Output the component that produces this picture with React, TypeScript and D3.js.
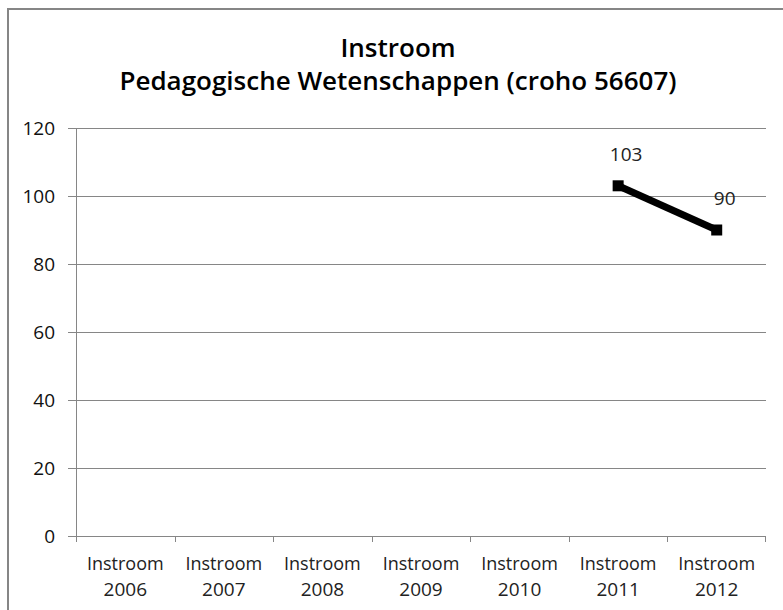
import React from "react";
import * as d3 from "d3";

const categories = ["2006", "2007", "2008", "2009", "2010", "2011", "2012"];
const values: (number | null)[] = [null, null, null, null, null, 103, 90];
const yTicks = [0, 20, 40, 60, 80, 100, 120];
const titleLines = ["Instroom", "Pedagogische Wetenschappen (croho 56607)"];
const catPrefix = "Instroom";

export default function App() {
  const W = 783, H = 610;
  const left = 76, right = 766, top = 128, bottom = 536;
  const x = d3.scaleBand().domain(categories).range([left, right]);
  const y = d3.scaleLinear().domain([0, 120]).range([bottom, top]);
  const pts = categories
    .map((c, i) => ({ c, v: values[i] }))
    .filter((d) => d.v !== null) as { c: string; v: number }[];
  const line = d3
    .line<{ c: string; v: number }>()
    .x((d) => x(d.c)! + x.bandwidth() / 2)
    .y((d) => y(d.v));
  const font = "'Open Sans', sans-serif";
  const grey = "#868686";
  return (
    <svg
      width={W}
      height={H}
      style={{ position: "absolute", left: 0, top: 0, background: "#fff" }}
    >
      <rect x={8} y={9} width={W + 10} height={H + 10} fill="#fff" stroke={grey} strokeWidth={2} />
      <text x={398} y={57} textAnchor="middle" fontFamily={font} fontSize={26} fontWeight={600} fill="#000">
        {titleLines[0]}
      </text>
      <text x={398} y={90} textAnchor="middle" fontFamily={font} fontSize={26} fontWeight={600} fill="#000">
        {titleLines[1]}
      </text>
      {yTicks.map((t) => (
        <g key={t}>
          <line x1={68} x2={right} y1={y(t) + 0.5} y2={y(t) + 0.5} stroke={grey} strokeWidth={1} />
          <text x={55} y={y(t) + 7} textAnchor="end" fontFamily={font} fontSize={19} fill="#111">
            {t}
          </text>
        </g>
      ))}
      <line x1={left + 0.5} x2={left + 0.5} y1={top} y2={bottom} stroke={grey} strokeWidth={1} />
      {categories.map((c, i) => (
        <g key={c}>
          <line
            x1={Math.round(x(c)!) + 0.5}
            x2={Math.round(x(c)!) + 0.5}
            y1={bottom}
            y2={bottom + 6}
            stroke={grey}
          />
          <text x={x(c)! + x.bandwidth() / 2} y={570} textAnchor="middle" fontFamily={font} fontSize={18} fill="#222">
            {catPrefix}
          </text>
          <text x={x(c)! + x.bandwidth() / 2} y={596} textAnchor="middle" fontFamily={font} fontSize={19} fill="#222">
            {c}
          </text>
        </g>
      ))}
      <line x1={right - 0.5} x2={right - 0.5} y1={bottom} y2={bottom + 6} stroke={grey} />
      <path d={line(pts)!} fill="none" stroke="#000" strokeWidth={7} />
      {pts.map((d) => (
        <g key={d.c}>
          <rect x={x(d.c)! + x.bandwidth() / 2 - 5.5} y={y(d.v) - 5.5} width={11} height={11} fill="#000" />
          <text
            x={x(d.c)! + x.bandwidth() / 2 + 8}
            y={y(d.v) - 25}
            textAnchor="middle"
            fontFamily={font}
            fontSize={19}
            fill="#222"
          >
            {d.v}
          </text>
        </g>
      ))}
    </svg>
  );
}
